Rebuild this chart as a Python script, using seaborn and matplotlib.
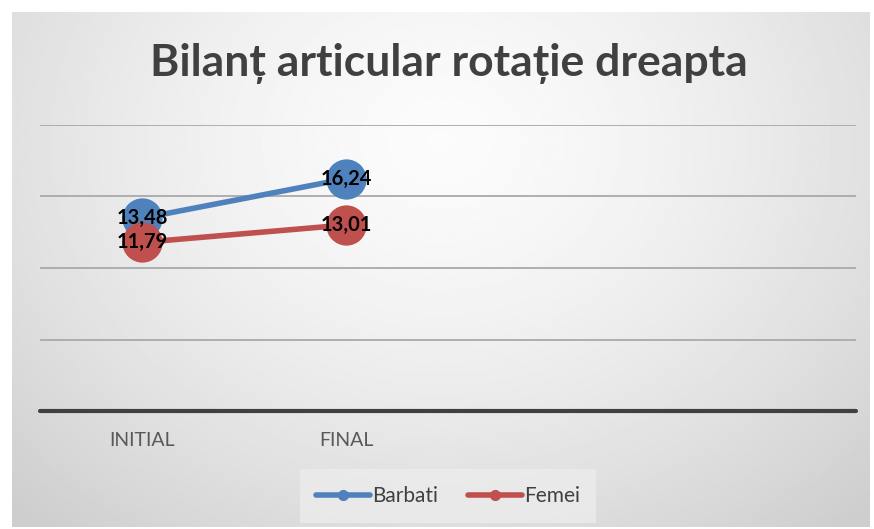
import numpy as np
import pandas as pd
import matplotlib
matplotlib.use("Agg")
import matplotlib.pyplot as plt
import seaborn as sns
from matplotlib.lines import Line2D

# Data
categories = ["INITIAL", "FINAL"]
n_slots = 4
barbati = [13.48, 16.24]
femei = [11.79, 13.01]
series_names = ["Barbati", "Femei"]
colors = ["#4F81BD", "#C0504D"]

df = pd.DataFrame({
    "pos": list(range(len(categories))) * 2,
    "val": barbati + femei,
    "serie": [series_names[0]] * len(barbati) + [series_names[1]] * len(femei),
})

sns.set_theme(style="white")
plt.rcParams["font.family"] = ["Lato", "DejaVu Sans"]

W, H = 874, 529
fig = plt.figure(figsize=(W / 100, H / 100), dpi=100)
fig.patch.set_facecolor("white")

# Chart area background with soft radial shading
bg = fig.add_axes([12 / W, 2 / H, 858 / W, 515 / H])
yy, xx = np.mgrid[0:1:300j, 0:1:500j]
r = np.sqrt(((xx - 0.5) / 0.72) ** 2 + ((yy - 0.25) / 1.0) ** 2)
shade = 0.985 - 0.18 * np.clip(r, 0, 1) ** 1.5
bg.imshow(shade, cmap="gray", vmin=0, vmax=1, aspect="auto",
          extent=[0, 1, 0, 1], origin="upper", interpolation="bilinear")
bg.set_axis_off()

# Plot area
ax = fig.add_axes([40 / W, (H - 411) / H, 816 / W, 286 / H])
ax.patch.set_alpha(0)
ax.set_xlim(-0.5, n_slots - 0.5)
ax.set_ylim(0, 20)
for v in [5, 10, 15, 20]:
    ax.axhline(v, color="#a9a9a9", lw=1.3, zorder=1)
ax.axhline(0, color="#404040", lw=3, zorder=2, clip_on=False)

sns.lineplot(data=df, x="pos", y="val", hue="serie", palette=colors,
             marker="o", markersize=29, markeredgewidth=0, linewidth=4,
             legend=False, ax=ax, zorder=3)

for vals in (barbati, femei):
    for i, v in enumerate(vals):
        ax.text(i, v, f"{v:.2f}".replace(".", ","), ha="center", va="center",
                fontsize=14.5, fontweight="bold", color="black", zorder=5)

for s in ax.spines.values():
    s.set_visible(False)
ax.set_xticks(range(len(categories)))
ax.set_xticklabels(categories, color="#595959", fontsize=14)
ax.tick_params(axis="x", length=0, pad=15)
ax.set_yticks([])
ax.set_xlabel("")
ax.set_ylabel("")

fig.text(449 / W, 1 - 64 / H, "Bilanț articular rotație dreapta", ha="center",
         va="center", fontsize=32, fontweight="bold", color="#404040")

handles = [Line2D([0], [0], color=c, lw=4, marker="o", markersize=7)
           for c in colors]
leg = fig.legend(handles, series_names, loc="center",
                 bbox_to_anchor=(448 / W, 1 - 496 / H), ncol=2, frameon=True,
                 fontsize=15, handlelength=2.6, handletextpad=0.1,
                 columnspacing=1.4, borderpad=0.5)
leg.get_frame().set_facecolor("#ececec")
leg.get_frame().set_edgecolor("none")
leg.get_frame().set_boxstyle("square")
for t in leg.get_texts():
    t.set_color("#404040")

fig.savefig("out.png", dpi=100, facecolor="white")
